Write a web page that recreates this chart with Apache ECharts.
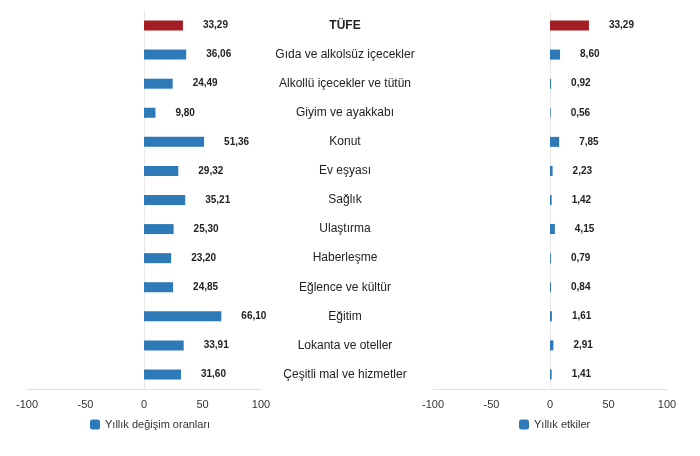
<!DOCTYPE html><html><head><meta charset="utf-8"><script src="https://cdn.jsdelivr.net/npm/echarts@6/dist/echarts.min.js"></script></head><body style="margin:0"><div id="c" style="width:700px;height:456px"></div><script>
const categories=["TÜFE","Gıda ve alkolsüz içecekler","Alkollü içecekler ve tütün","Giyim ve ayakkabı","Konut","Ev eşyası","Sağlık","Ulaştırma","Haberleşme","Eğlence ve kültür","Eğitim","Lokanta ve oteller","Çeşitli mal ve hizmetler"];
const annualChange=[33.29,36.06,24.49,9.80,51.36,29.32,35.21,25.30,23.20,24.85,66.10,33.91,31.60];
const annualEffect=[33.29,8.60,0.92,0.56,7.85,2.23,1.42,4.15,0.79,0.84,1.61,2.91,1.41];
const fmt=v=>v.toFixed(2).replace('.',',');
const mk=(arr)=>arr.map((v,i)=>({value:v,itemStyle:{color:i===0?'#a51d24':'#2e7ab8'}}));
const xa=(g)=>({gridIndex:g,type:'value',min:-100,max:100,interval:50,splitLine:{show:false},axisLine:{show:true,lineStyle:{color:'#e0e0e0'}},axisTick:{show:false},axisLabel:{color:'#333',fontSize:11,fontFamily:'Liberation Sans',margin:10}});
const lbl={show:true,position:'right',distance:20,formatter:p=>fmt(p.value),fontSize:10,fontWeight:'bold',color:'#222',fontFamily:'Liberation Sans'};
echarts.init(document.getElementById('c')).setOption({
animation:false,
grid:[{left:27,width:234,top:11,bottom:67},{left:433,width:234,top:11,bottom:67}],
xAxis:[xa(0),xa(1)],
yAxis:[{gridIndex:0,type:'category',data:categories,inverse:true,axisLine:{show:true,onZero:false,lineStyle:{color:'#e8e8e8'}},position:'left',offset:-117,axisTick:{show:false},axisLabel:{show:false}},
{gridIndex:1,type:'category',data:categories,inverse:true,axisLine:{show:true,lineStyle:{color:'#e8e8e8'}},offset:-117,axisTick:{show:false},axisLabel:{show:true,align:'center',margin:205,fontSize:12,color:'#222',fontFamily:'Liberation Sans',formatter:(v,i)=>i===0?'{b|'+v+'}':v,rich:{b:{fontWeight:'bold',fontSize:12,color:'#222'}}}}],
legend:[{data:['Yıllık değişim oranları'],left:85,top:414,itemWidth:10,itemHeight:10,textStyle:{fontSize:11,color:'#333'}},{data:['Yıllık etkiler'],left:514,top:414,itemWidth:10,itemHeight:10,textStyle:{fontSize:11,color:'#333'}}],
series:[{name:'Yıllık değişim oranları',type:'bar',data:mk(annualChange),barWidth:10,label:lbl,itemStyle:{color:'#2e7ab8'}},
{name:'Yıllık etkiler',type:'bar',xAxisIndex:1,yAxisIndex:1,data:mk(annualEffect),barWidth:10,label:lbl,itemStyle:{color:'#2e7ab8'}}]
});
</script></body></html>
